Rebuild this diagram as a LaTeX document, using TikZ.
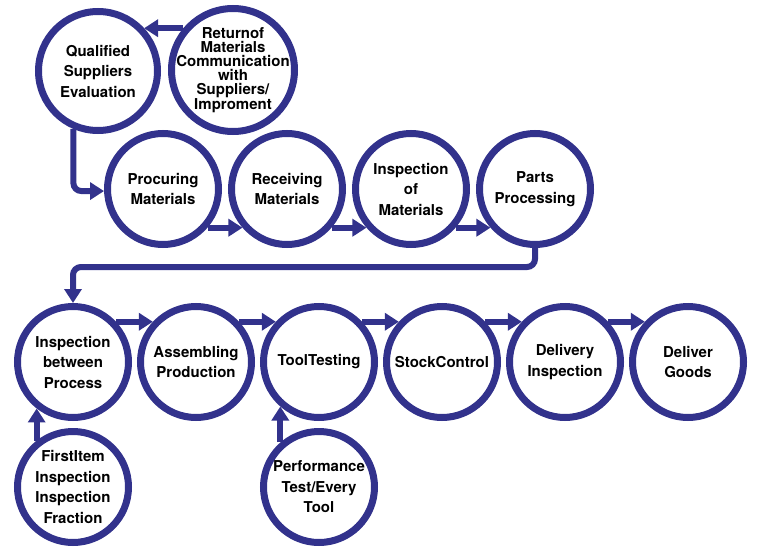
\documentclass[tikz,border=0pt]{standalone}
\usepackage{fontspec}
\setmainfont{TeX Gyre Heros}
\usetikzlibrary{arrows.meta}
\definecolor{ringblue}{RGB}{50,50,140}
\tikzset{
  ring/.style={circle, draw=ringblue, line width=7pt, fill=white,
    minimum size=111pt, inner sep=-18pt, align=center,
    font=\bfseries\fontsize{15}{20.5}\selectfont},
  bigring/.style={ring, minimum size=119pt},
  tightring/.style={ring, minimum size=123pt,
    font=\bfseries\fontsize{15}{14}\selectfont},
  arr/.style={draw=ringblue, line width=6pt,
    -{Triangle[length=14pt,width=17pt]}},
}
\begin{document}
\begin{tikzpicture}[x=1pt,y=-1pt]
\useasboundingbox (0,0) rectangle (760,554);
% top
\node[bigring] (qse) at (98,71) {Qualified\\Suppliers\\Evaluation};
\node[tightring] (ret) at (233,70) {Returnof\\Materials\\Communication\\with\\Suppliers/\\Improment};
% row 1
\node[ring] (pm) at (163,189) {Procuring\\Materials};
\node[ring] (rm) at (287,189) {Receiving\\Materials};
\node[ring] (im) at (411,189) {Inspection\\of\\Materials};
\node[ring] (pp) at (535,189) {Parts\\Processing};
% row 2
\node[ring] (ib) at (73,362) {Inspection\\between\\Process};
\node[ring] (ap) at (196,362) {Assembling\\Production};
\node[ring] (tt) at (319,362) {ToolTesting};
\node[ring] (sc) at (442,362) {StockControl};
\node[ring] (di) at (565,362) {Delivery\\Inspection};
\node[ring] (dg) at (688,362) {Deliver\\Goods};
% bottom
\node[ring] (fi) at (73,487) {FirstItem\\Inspection\\Inspection\\Fraction};
\node[ring] (pt) at (319,487) {Performance\\Test/Every\\Tool};
% connectors
\draw[arr] (ret.140) -- (ret.140 -| qse.43);
\draw[arr, rounded corners=8pt] (qse.247) |- (pm.182);
\draw[arr] (pm.-41) -- (rm.221);
\draw[arr] (rm.-41) -- (im.221);
\draw[arr] (im.-41) -- (pp.221);
\coordinate (c1) at (535,267);
\draw[arr, rounded corners=8pt] (pp.south) -- (c1) -| (ib.north);
\draw[arr] (ib.43) -- (ap.137);
\draw[arr] (ap.43) -- (tt.137);
\draw[arr] (tt.43) -- (sc.137);
\draw[arr] (sc.43) -- (di.137);
\draw[arr] (di.43) -- (dg.137);
\draw[arr] (fi.128) -- (fi.128 |- ib.232);
\draw[arr] (pt.131) -- (pt.131 |- tt.229);
\end{tikzpicture}
\end{document}
